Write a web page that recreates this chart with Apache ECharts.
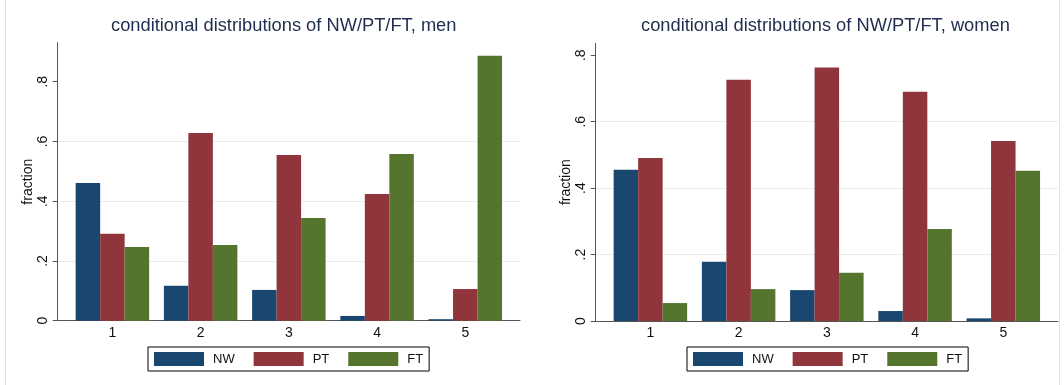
<!DOCTYPE html>
<html>
<head>
<meta charset="utf-8">
<script src="https://cdn.jsdelivr.net/npm/echarts@6/dist/echarts.min.js"></script>
<style>
  html, body { margin: 0; padding: 0; background: #fff; }
  #chart { width: 1064px; height: 385px; }
</style>
</head>
<body>
<div id="chart"></div>
<script>
// Groups 1..5 on the horizontal axis
const categories = [1, 2, 3, 4, 5];
const seriesNames = ['NW', 'PT', 'FT'];

// Conditional shares for men
const menNW = [0.461, 0.117, 0.103, 0.016, 0.005];
const menPT = [0.291, 0.628, 0.555, 0.424, 0.106];
const menFT = [0.247, 0.253, 0.344, 0.558, 0.887];

// Conditional shares for women
const womenNW = [0.455, 0.178, 0.093, 0.030, 0.008];
const womenPT = [0.491, 0.726, 0.763, 0.690, 0.542];
const womenFT = [0.054, 0.096, 0.145, 0.277, 0.452];

// Tick values on the fraction axes
const yTicks = [0, 0.2, 0.4, 0.6, 0.8];

const colors = { NW: '#1a476f', PT: '#90353b', FT: '#55752f' };
const FONT = '"Liberation Sans", Arial, Helvetica, sans-serif';
const AXIS_COLOR = '#555555';
const GRID_COLOR = '#e6eeef';

function tickLabel(v) {
  if (v === 0) return '0';
  return String(+v.toFixed(2)).replace(/^0/, '');
}

function xAxisFor(gridIndex) {
  return {
    type: 'value',
    gridIndex: gridIndex,
    min: 0.38,
    max: 5.62,
    axisLine: { show: true, onZero: false, lineStyle: { color: AXIS_COLOR, width: 1 } },
    axisTick: { show: false },
    splitLine: { show: false },
    axisLabel: {
      customValues: categories,
      formatter: v => String(v),
      color: '#111',
      fontFamily: FONT,
      fontSize: 14,
      margin: 5
    }
  };
}

function yAxisFor(gridIndex, max) {
  return {
    type: 'value',
    gridIndex: gridIndex,
    min: 0,
    max: max,
    name: 'fraction',
    nameLocation: 'middle',
    nameGap: 23,
    nameRotate: 90,
    nameTextStyle: { color: '#111', fontFamily: FONT, fontSize: 14 },
    axisLine: { show: true, lineStyle: { color: AXIS_COLOR, width: 1 } },
    axisTick: { show: true, length: 5, customValues: yTicks, lineStyle: { color: AXIS_COLOR } },
    splitLine: { show: true, showMaxLine: false, showMinLine: false, lineStyle: { color: GRID_COLOR, width: 1.2 } },
    axisLabel: {
      customValues: yTicks,
      formatter: tickLabel,
      rotate: 90,
      color: '#111',
      fontFamily: FONT,
      fontSize: 14,
      margin: 8
    }
  };
}

function barSeries(name, values, axisIndex) {
  return {
    type: 'bar',
    name: name,
    xAxisIndex: axisIndex,
    yAxisIndex: axisIndex,
    data: categories.map((c, i) => [c, values[i]]),
    barWidth: 24.5,
    barGap: '0%',
    itemStyle: { color: colors[name] },
    emphasis: { disabled: true },
    animation: false
  };
}

function legendFor(left) {
  return {
    left: left,
    top: 347,
    orient: 'horizontal',
    data: seriesNames,
    icon: 'rect',
    itemWidth: 50,
    itemHeight: 14,
    itemGap: 19,
    padding: [5, 6],
    borderColor: '#000',
    borderWidth: 1,
    selectedMode: false,
    textStyle: { color: '#111', fontFamily: FONT, fontSize: 13, lineHeight: 14, padding: [0, 0, 0, 4] }
  };
}

const titleStyle = { color: '#1f2d4e', fontFamily: FONT, fontSize: 18.3, fontWeight: 'normal' };

const chart = echarts.init(document.getElementById('chart'), null, { renderer: 'canvas' });
chart.setOption({
  backgroundColor: '#ffffff',
  animation: false,
  title: [
    { text: 'conditional distributions of NW/PT/FT, men', left: 106, top: 12, textStyle: titleStyle },
    { text: 'conditional distributions of NW/PT/FT, women', left: 636, top: 12, textStyle: titleStyle }
  ],
  legend: [legendFor(148), legendFor(687)],
  grid: [
    { left: 57.7, top: 42.7, width: 462.3, height: 278, containLabel: false },
    { left: 595.7, top: 43.3, width: 462.3, height: 277.7, containLabel: false }
  ],
  xAxis: [xAxisFor(0), xAxisFor(1)],
  yAxis: [yAxisFor(0, 0.9305), yAxisFor(1, 0.836)],
  series: [
    barSeries('NW', menNW, 0),
    barSeries('PT', menPT, 0),
    barSeries('FT', menFT, 0),
    barSeries('NW', womenNW, 1),
    barSeries('PT', womenPT, 1),
    barSeries('FT', womenFT, 1)
  ],
  graphic: [
    { type: 'line', shape: { x1: 5.5, y1: 0, x2: 5.5, y2: 385 }, style: { stroke: '#e2e2e2', lineWidth: 1 }, silent: true },
    { type: 'line', shape: { x1: 1059.5, y1: 0, x2: 1059.5, y2: 385 }, style: { stroke: '#e2e2e2', lineWidth: 1 }, silent: true }
  ]
});
</script>
</body>
</html>
